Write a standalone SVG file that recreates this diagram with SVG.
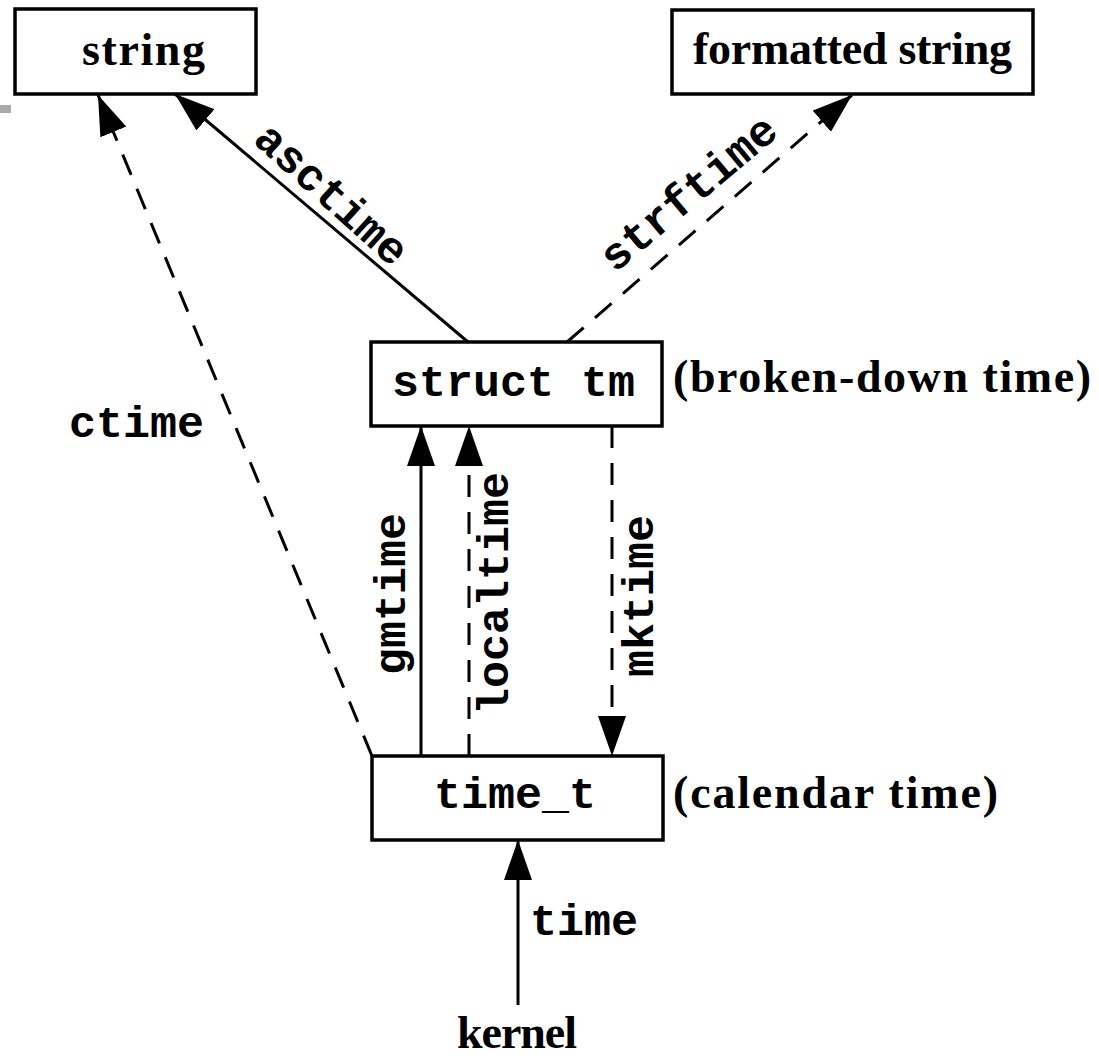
<svg xmlns="http://www.w3.org/2000/svg" width="1099" height="1063" viewBox="0 0 1099 1063">
<style>
.box{fill:#fff;stroke:#000;stroke-width:3.5}
.ser{font-family:"Liberation Serif",serif;font-weight:bold;font-size:46px;fill:#000}
.mono{font-family:"Liberation Mono",monospace;font-weight:bold;font-size:45px;fill:#000}
.ln{fill:none;stroke:#000;stroke-width:3}
.dash{stroke-dasharray:22 15}
</style>
<defs>
<marker id="ah" viewBox="0 0 40 28" refX="40" refY="14" markerWidth="40" markerHeight="28" markerUnits="userSpaceOnUse" orient="auto">
<path d="M0,0 L40,14 L0,28 z" fill="#000"/>
</marker>
</defs>
<rect x="0" y="105" width="11" height="8" fill="#aaa"/>
<g id="connectors">
<line class="ln dash" x1="372" y1="756" x2="98" y2="95" marker-end="url(#ah)"/>
<line class="ln" x1="468" y1="342" x2="175" y2="94" marker-end="url(#ah)"/>
<line class="ln dash" x1="567" y1="342" x2="852" y2="95" marker-end="url(#ah)"/>
<line class="ln" x1="421" y1="756" x2="421" y2="426" marker-end="url(#ah)"/>
<line class="ln dash" x1="469" y1="756" x2="469" y2="426" marker-end="url(#ah)"/>
<line class="ln dash" x1="612" y1="426" x2="612" y2="756" marker-end="url(#ah)"/>
<line class="ln" x1="518" y1="1005" x2="518" y2="840" marker-end="url(#ah)"/>
<text class="mono" x="69" y="437">ctime</text>
<text class="mono" font-size="43" text-anchor="middle" transform="translate(330,196) rotate(42)" y="12">asctime</text>
<text class="mono" font-size="43" text-anchor="middle" transform="translate(690,195) rotate(-40)" y="12">strftime</text>
<text class="mono" transform="translate(405,675) rotate(-90)">gmtime</text>
<text class="mono" transform="translate(508,715) rotate(-90)">localtime</text>
<text class="mono" transform="translate(653,677) rotate(-90)">mktime</text>
<text class="mono" x="530" y="935">time</text>
</g>
<g id="string">
<rect class="box" x="15" y="9" width="241" height="85"/>
<text class="ser" x="82" y="65" textLength="123">string</text>
</g>
<g id="formatted">
<rect class="box" x="672" y="10" width="361" height="84"/>
<text class="ser" x="693" y="64" textLength="319">formatted string</text>
</g>
<g id="structtm">
<rect class="box" x="371" y="342" width="291" height="84"/>
<text class="mono" x="392" y="396">struct tm</text>
<text class="ser" x="673" y="392" textLength="418">(broken-down time)</text>
</g>
<g id="timet">
<rect class="box" x="372" y="756" width="291" height="84"/>
<text class="mono" x="434" y="808">time_t</text>
<text class="ser" x="673" y="808" textLength="325">(calendar time)</text>
</g>
<g id="kernel">
<text class="ser" x="457" y="1048" textLength="120">kernel</text>
</g>
</svg>
